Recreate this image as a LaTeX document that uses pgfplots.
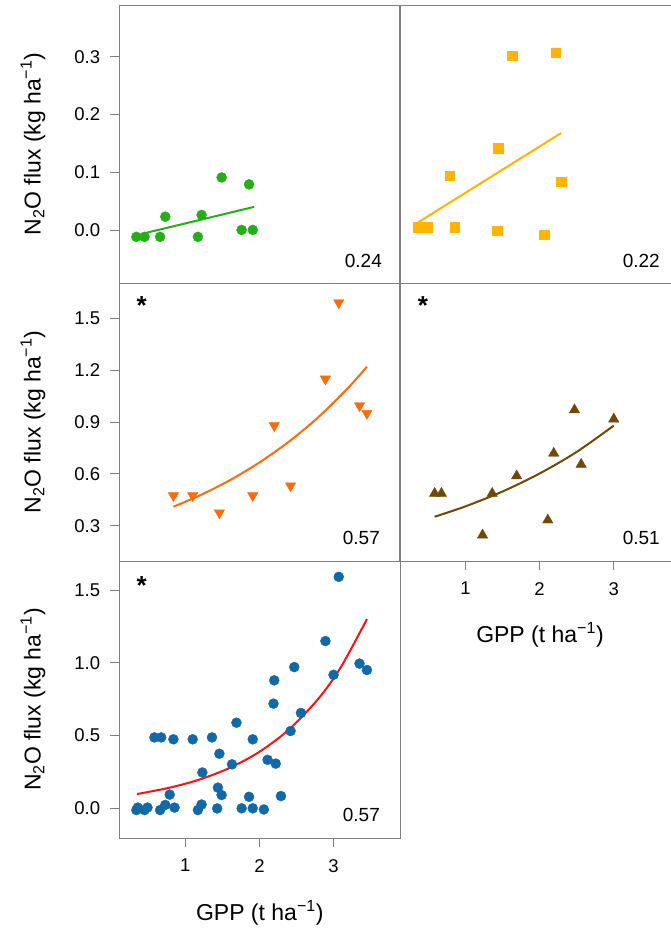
\documentclass[border=0pt]{standalone}
\usepackage{fontspec}
\setmainfont{Liberation Sans}
\usepackage{pgfplots}
\pgfplotsset{compat=1.18}

\definecolor{axgray}{HTML}{808080}
\definecolor{cgreen}{HTML}{22B014}
\definecolor{cyellow}{HTML}{FFB400}
\definecolor{corange}{HTML}{FF6A0A}
\definecolor{cbrown}{HTML}{704A04}
\definecolor{cblue}{HTML}{1169A8}
\definecolor{cred}{HTML}{FF1010}

\newcommand{\ylab}{N\textsubscript{2}O flux (kg ha\textsuperscript{−1})}
\newcommand{\xlab}{GPP (t ha\textsuperscript{−1})}

\tikzset{
  rsq/.style={anchor=base east, inner sep=0pt, font=\fontsize{19}{20}\selectfont},
  star/.style={anchor=north, inner sep=0pt, font=\bfseries\fontsize{26}{26}\selectfont},
}
\pgfplotsset{
  panel/.style={
    scale only axis, width=281pt, height=278pt,
    xmin=0.11, xmax=3.9,
    anchor=south west,
    axis line style={draw=axgray, line width=0.8pt},
    tick style={draw=axgray, line width=0.8pt},
    tick align=outside, major tick length=9pt, tick pos=left,
    /pgf/number format/assume math mode=true,
    tick label style={font=\fontsize{18.5}{19}\selectfont},
    yticklabel style={inner sep=0pt, xshift=-10pt,
      /pgf/number format/.cd, fixed, fixed zerofill, precision=1},
    xticklabel style={inner sep=0pt, yshift=-12pt},
    label style={font=\fontsize{23}{26}\selectfont},
    ylabel style={at={(axis description cs:-0.307,0.5)}, anchor=center},
    xlabel style={at={(axis description cs:0.5,-0.27)}, anchor=center},
    clip=false,
  },
}

\begin{document}
\begin{tikzpicture}
\useasboundingbox (0pt,0pt) rectangle (671pt,930pt);
\clip (0pt,0pt) rectangle (671pt,930pt);

% top left
\begin{axis}[panel, at={(119.3pt,647pt)},
  ymin=-0.092, ymax=0.39, ytick={0,0.1,0.2,0.3}, xtick=\empty,
  ylabel={\ylab}]
\addplot[only marks, mark=*, mark size=5pt, color=cgreen] coordinates {
  (0.34,-0.012) (0.45,-0.012) (0.66,-0.012) (0.73,0.023) (1.17,-0.012)
  (1.22,0.026) (1.49,0.091) (1.76,0.000) (1.86,0.079) (1.91,0.000)};
\addplot[cgreen, line width=2pt, no markers] coordinates {(0.44,-0.006) (1.93,0.040)};
\node[rsq] at (rel axis cs:0.935,0.054) {0.24};
\end{axis}

% top right
\begin{axis}[panel, at={(399.5pt,647pt)},
  ymin=-0.092, ymax=0.39, ytick=\empty, xtick=\empty]
\addplot[only marks, mark=square*, mark size=4.7pt, color=cyellow] coordinates {
  (0.36,0.005) (0.49,0.005) (0.855,0.005) (0.79,0.094) (1.44,0.142)
  (1.43,-0.001) (1.63,0.302) (2.22,0.307) (2.29,0.084) (2.06,-0.008)};
\addplot[cyellow, line width=2pt, no markers] coordinates {(0.36,0.013) (2.29,0.168)};
\node[rsq] at (rel axis cs:0.927,0.054) {0.22};
\end{axis}

% middle left
\begin{axis}[panel, at={(119.3pt,369pt)},
  ymin=0.096, ymax=1.704, ytick={0.3,0.6,0.9,1.2,1.5}, xtick=\empty,
  ylabel={\ylab}]
\addplot[only marks, mark=triangle*, mark options={rotate=180}, mark size=6pt, color=corange] coordinates {
  (0.84,0.474) (1.10,0.474) (1.46,0.375) (1.91,0.474) (2.20,0.879)
  (2.42,0.531) (2.89,1.149) (3.07,1.590) (3.35,0.994) (3.45,0.950)};
\addplot[corange, line width=2pt, no markers, smooth] coordinates {
  (0.84,0.410) (1.2,0.476) (1.6,0.563) (2.0,0.666) (2.4,0.787)
  (2.8,0.930) (3.2,1.099) (3.45,1.220)};
\node[star] at (rel axis cs:0.08,0.95) {*};
\node[rsq] at (rel axis cs:0.928,0.058) {0.57};
\end{axis}

% middle right
\begin{axis}[panel, at={(399.5pt,369pt)},
  ymin=0.096, ymax=1.704, ytick=\empty, xtick={1,2,3},
  xlabel={\xlab}, xlabel style={at={(axis description cs:0.5,-0.266)}}]
\addplot[only marks, mark=triangle*, mark size=6pt, color=cbrown] coordinates {
  (0.584,0.487) (0.675,0.487) (1.23,0.246) (1.36,0.487) (1.69,0.588)
  (2.11,0.333) (2.19,0.719) (2.47,0.970) (2.56,0.655) (3.00,0.917)};
\addplot[cbrown, line width=2pt, no markers, smooth] coordinates {
  (0.584,0.352) (1.0,0.412) (1.5,0.498) (2.0,0.602) (2.5,0.727) (3.0,0.879)};
\node[star] at (rel axis cs:0.083,0.95) {*};
\node[rsq] at (rel axis cs:0.927,0.058) {0.51};
\end{axis}

% bottom left (all sites)
\begin{axis}[panel, at={(119.3pt,92pt)}, height=277pt,
  ymin=-0.204, ymax=1.699, ytick={0,0.5,1,1.5}, xtick={1,2,3},
  ylabel={\ylab}, xlabel={\xlab}]
\addplot[only marks, mark=*, mark size=5pt, color=cblue] coordinates {
  (0.34,-0.012) (0.45,-0.012) (0.66,-0.012) (0.73,0.023) (1.17,-0.012)
  (1.22,0.026) (1.49,0.091) (1.76,0.000) (1.86,0.079) (1.91,0.000)
  (0.36,0.005) (0.49,0.005) (0.855,0.005) (0.79,0.094) (1.44,0.142)
  (1.43,-0.001) (1.63,0.302) (2.22,0.307) (2.29,0.084) (2.06,-0.008)
  (0.84,0.474) (1.10,0.474) (1.46,0.375) (1.91,0.474) (2.20,0.879)
  (2.42,0.531) (2.89,1.149) (3.07,1.590) (3.35,0.994) (3.45,0.950)
  (0.584,0.487) (0.675,0.487) (1.23,0.246) (1.36,0.487) (1.69,0.588)
  (2.11,0.333) (2.19,0.719) (2.47,0.970) (2.56,0.655) (3.00,0.917)};
\addplot[cred, line width=2pt, no markers, smooth] coordinates {
  (0.35,0.098) (0.8,0.143) (1.2,0.199) (1.6,0.278) (2.0,0.388)
  (2.4,0.542) (2.8,0.756) (3.1,0.971) (3.45,1.300)};
\node[star] at (rel axis cs:0.08,0.943) {*};
\node[rsq] at (rel axis cs:0.928,0.058) {0.57};
\end{axis}
\end{tikzpicture}
\end{document}
